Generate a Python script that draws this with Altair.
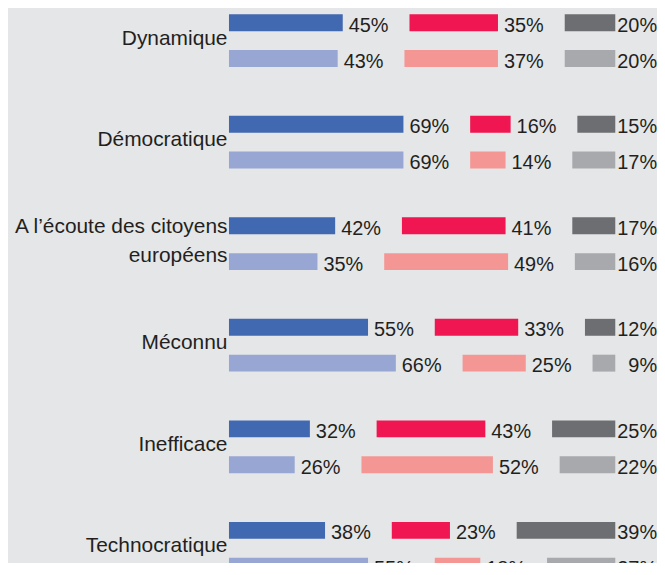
import altair as alt
import pandas as pd

categories = [
    "Dynamique",
    "Démocratique",
    "A l’écoute des citoyens européens",
    "Méconnu",
    "Inefficace",
    "Technocratique",
]
rows = ["dark", "light"]
segments = ["positive", "negative", "neutral"]

positive_dark = [45, 69, 42, 55, 32, 38]
negative_dark = [35, 16, 41, 33, 43, 23]
neutral_dark = [20, 15, 17, 12, 25, 39]
positive_light = [43, 69, 35, 66, 26, 55]
negative_light = [37, 14, 49, 25, 52, 18]
neutral_light = [20, 17, 16, 9, 22, 27]

color_keys = ["positive-dark", "negative-dark", "neutral-dark",
              "positive-light", "negative-light", "neutral-light"]
color_values = ["#4169b1", "#ef1651", "#6d6e71",
                "#98a6d4", "#f49794", "#a7a9ac"]

GAP = 26.4  # gap between segments, in percentage units (room for labels)

records = []
for i, cat in enumerate(categories):
    for row, vals in (("dark", (positive_dark[i], negative_dark[i], neutral_dark[i])),
                      ("light", (positive_light[i], negative_light[i], neutral_light[i]))):
        start = 0.0
        for seg, v in zip(segments, vals):
            records.append({
                "category": cat,
                "row": row,
                "segment": seg,
                "key": f"{seg}-{row}",
                "value": v,
                "x0": start,
                "x1": start + v,
                "label": f"{v}%",
            })
            start = start + v + GAP
df = pd.DataFrame(records)

FONT = "Liberation Sans, Arial, sans-serif"
TEXT = "#231f20"
LONG = "A l’écoute des citoyens européens"

y_enc = alt.Y(
    "category:N",
    sort=categories,
    scale=alt.Scale(paddingInner=0.4804, paddingOuter=0.049, range=[0, 573]),
    axis=alt.Axis(
        title=None, ticks=False, tickSize=0, domain=False, labelPadding=2,
        labelFont=FONT, labelFontSize=21, labelColor=TEXT, labelLimit=400,
        labelLineHeight=29,
        labelOffset=alt.condition(f"datum.value == '{LONG}'", alt.value(-17), alt.value(-2)),
        labelExpr=f"datum.value == '{LONG}' ? ['A l’écoute des citoyens', 'européens'] : datum.value",
    ),
)
yoff_enc = alt.YOffset("row:N", sort=rows,
                       scale=alt.Scale(paddingInner=0.5278, paddingOuter=0))
x_scale = alt.Scale(domain=[0, 169.3], nice=False, zero=True)

base = alt.Chart(df)

bars = base.mark_bar(cornerRadius=0).encode(
    x=alt.X("x0:Q", scale=x_scale, axis=None),
    x2="x1:Q",
    y=y_enc,
    yOffset=yoff_enc,
    color=alt.Color("key:N", scale=alt.Scale(domain=color_keys, range=color_values), legend=None),
)

labels_lr = base.transform_filter("datum.segment != 'neutral'").mark_text(
    align="left", baseline="middle", dx=6, dy=3, font=FONT, fontSize=20, color=TEXT
).encode(
    x=alt.X("x1:Q", scale=x_scale, axis=None),
    y=y_enc,
    yOffset=yoff_enc,
    text="label:N",
)

labels_neutral = base.transform_filter("datum.segment == 'neutral'").mark_text(
    align="right", baseline="middle", dx=42, dy=3, font=FONT, fontSize=20, color=TEXT
).encode(
    x=alt.X("x1:Q", scale=x_scale, axis=None),
    y=y_enc,
    yOffset=yoff_enc,
    text="label:N",
)

chart = alt.layer(bars, labels_lr, labels_neutral).properties(
    width=430,
    height=555,
    autosize=alt.AutoSizeParams(type="none"),
    padding={"left": 222, "top": 0, "right": 0, "bottom": 0},
    background="#e5e6e8",
).configure_view(stroke=None)

chart.save("out.html", embed_options={"renderer": "svg", "actions": False})
